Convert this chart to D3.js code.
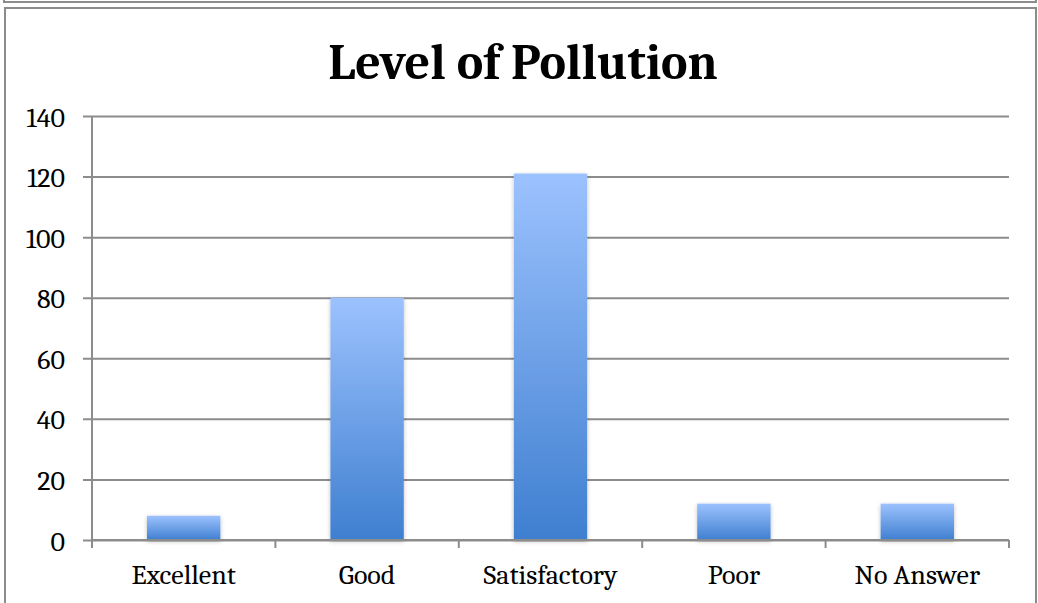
<!DOCTYPE html>
<html>
<head>
<meta charset="utf-8">
<script src="https://cdn.jsdelivr.net/npm/d3@7"></script>
<style>
  html, body { margin: 0; padding: 0; background: #fff; }
  svg { display: block; }
</style>
</head>
<body>
<svg id="chart" width="1038" height="603"></svg>
<script>
// Survey responses: perceived level of pollution
const categories = ["Excellent", "Good", "Satisfactory", "Poor", "No Answer"];
const responses = [8, 80, 121, 12, 12];
const yTicks = [0, 20, 40, 60, 80, 100, 120, 140];
const chartTitle = "Level of Pollution";

const svg = d3.select("#chart");
const W = 1038, H = 603;
const serif = "Cambria, Caladea, 'Liberation Serif', 'DejaVu Serif', serif";

// Frames: the tail of the box above, and this chart's border
svg.append("path")
  .attr("d", `M4,0 V2 H1036 V0`)
  .attr("fill", "none").attr("stroke", "#8c8c8c").attr("stroke-width", 2);
svg.append("path")
  .attr("d", `M5,${H + 5} V8 H1036 V${H + 5}`)
  .attr("fill", "none").attr("stroke", "#8c8c8c").attr("stroke-width", 2);

const plot = { left: 92, right: 1009, top: 116, bottom: 540 };

const x = d3.scaleBand()
  .domain(categories)
  .range([plot.left, plot.right])
  .paddingInner(0.6)
  .paddingOuter(0.3);

const y = d3.scaleLinear()
  .domain([0, 140])
  .range([plot.bottom, plot.top]);

// Bar gradient
const defs = svg.append("defs");
const grad = defs.append("linearGradient")
  .attr("id", "barFill").attr("x1", 0).attr("y1", 0).attr("x2", 0).attr("y2", 1);
grad.append("stop").attr("offset", "0%").attr("stop-color", "#9cc2fe");
grad.append("stop").attr("offset", "100%").attr("stop-color", "#3f7fd0");

const shadow = defs.append("filter").attr("id", "barShadow")
  .attr("x", "-20%").attr("y", "-20%").attr("width", "140%").attr("height", "140%");
shadow.append("feDropShadow")
  .attr("dx", 0).attr("dy", 1.5).attr("stdDeviation", 2)
  .attr("flood-color", "#000").attr("flood-opacity", 0.25);

// Horizontal gridlines with y-axis ticks
const yAxis = d3.axisLeft(y)
  .tickValues(yTicks)
  .tickSize(-(plot.right - plot.left))
  .tickSizeOuter(0)
  .tickPadding(27);
const gy = svg.append("g")
  .attr("transform", `translate(${plot.left},0)`)
  .call(yAxis);
gy.select(".domain").remove();
gy.selectAll(".tick line")
  .attr("x1", -9)
  .attr("stroke", "#8c8c8c").attr("stroke-width", 2);
gy.selectAll(".tick text")
  .attr("x", -27)
  .attr("font-family", serif).attr("font-size", 28).attr("fill", "#000")
  .attr("dy", "0.36em");

// Vertical y-axis line
svg.append("line")
  .attr("x1", plot.left).attr("x2", plot.left)
  .attr("y1", plot.top).attr("y2", plot.bottom + 8)
  .attr("stroke", "#8c8c8c").attr("stroke-width", 2);

// Bars
svg.append("g").selectAll("rect")
  .data(responses)
  .join("rect")
  .attr("x", (d, i) => x(categories[i]))
  .attr("width", x.bandwidth())
  .attr("y", d => y(d))
  .attr("height", d => y(0) - y(d))
  .attr("fill", "url(#barFill)")
  .attr("filter", "url(#barShadow)");

// Category axis with ticks on band boundaries
const bounds = d3.range(categories.length + 1).map(i => plot.left + i * (plot.right - plot.left) / categories.length);
const gx = svg.append("g");
gx.append("line")
  .attr("x1", plot.left).attr("x2", plot.right)
  .attr("y1", plot.bottom).attr("y2", plot.bottom)
  .attr("stroke", "#8c8c8c").attr("stroke-width", 2);
gx.selectAll("line.tk")
  .data(bounds)
  .join("line").attr("class", "tk")
  .attr("x1", d => d).attr("x2", d => d)
  .attr("y1", plot.bottom).attr("y2", plot.bottom + 8)
  .attr("stroke", "#8c8c8c").attr("stroke-width", 2);
gx.selectAll("text")
  .data(categories)
  .join("text")
  .attr("x", d => x(d) + x.bandwidth() / 2)
  .attr("y", 584)
  .attr("text-anchor", "middle")
  .attr("font-family", serif).attr("font-size", 28).attr("fill", "#000")
  .text(d => d);

// Title
svg.append("text")
  .attr("x", 523).attr("y", 79)
  .attr("text-anchor", "middle")
  .attr("font-family", serif).attr("font-weight", "bold").attr("font-size", 50)
  .attr("fill", "#000")
  .text(chartTitle);
</script>
</body>
</html>
